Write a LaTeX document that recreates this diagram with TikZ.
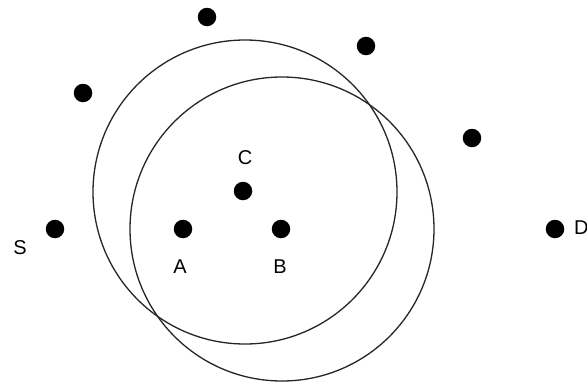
\documentclass[tikz,border=0pt]{standalone}
\usepackage{fontspec}
\setmainfont{Liberation Sans}
\begin{document}
\begin{tikzpicture}[x=1pt,y=-1pt,
  dot/.style={circle,fill=black,inner sep=0pt,minimum size=18.5pt},
  lbl/.style={inner sep=0pt,font=\fontsize{20}{20}\selectfont},
  ring/.style={draw=black!85,line width=1.3pt}]
\useasboundingbox[fill=white] (0,0) rectangle (587,386);
% dots
\node[dot] (p1) at (207,17) {};
\node[dot] (p2) at (366,46) {};
\node[dot] (p3) at (83,93) {};
\node[dot] (p4) at (472,138) {};
\node[dot] (c) at (243,191) {};
\node[dot] (s) at (55,229) {};
\node[dot] (a) at (183,229) {};
\node[dot] (b) at (281,229) {};
\node[dot] (d) at (555,229) {};
% labels
\node[lbl] (ls) at (20,248) {S};
\node[lbl] (la) at (180,267) {A};
\node[lbl] (lb) at (280,267) {B};
\node[lbl] (lc) at (245,158) {C};
\node[lbl,anchor=west] (ld) at (574,228) {D};
% ranges
\draw[ring] (245,192) circle (152);
\draw[ring] (282,229) circle (152);
\end{tikzpicture}
\end{document}
